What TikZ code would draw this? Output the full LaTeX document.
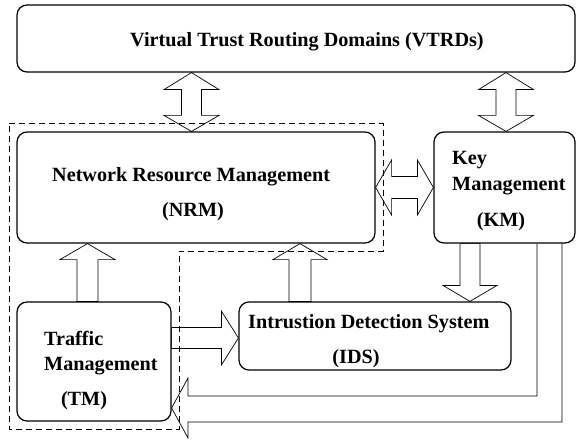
\documentclass[tikz,border=0pt]{standalone}
\usepackage{fontspec}
\setmainfont{Liberation Serif}
\usetikzlibrary{calc}
\begin{document}
\begin{tikzpicture}[x=1pt,y=-1pt,
  box/.style={draw, line width=1.2pt, rounded corners=10pt, inner sep=0pt},
  lbl/.style={inner sep=0pt, font=\fontsize{20.2}{24}\selectfont\bfseries},
  barrow/.style={draw, line width=0.7pt, line join=miter},
  region/.style={draw, line width=1pt, dash pattern=on 6pt off 4pt}]
\useasboundingbox (0,0) rectangle (576,441);
% boxes
\node[box, minimum width=558pt, minimum height=67pt] (vtrd) at (296,38.5) {};
\node[box, minimum width=358pt, minimum height=111pt] (nrm) at (196,187.5) {};
\node[box, minimum width=141pt, minimum height=111pt] (km) at (504.5,187.5) {};
\node[box, minimum width=154pt, minimum height=119pt] (tm) at (94,361.5) {};
\node[box, minimum width=272pt, minimum height=68pt] (ids) at (375,336) {};
% texts
\node[lbl, anchor=base west] (t1) at (130,47) {Virtual Trust Routing Domains (VTRDs)};
\node[lbl, anchor=base west] (t2) at (52,182) {Network Resource Management};
\node[lbl, anchor=base] (t3) at (193,217) {(NRM)};
\node[lbl, anchor=base west] (t4) at (452,165) {Key};
\node[lbl, anchor=base west] (t5) at (452,190) {Management};
\node[lbl, anchor=base] (t6) at (501,226) {(KM)};
\node[lbl, anchor=base west] (t7) at (44,345) {Traffic};
\node[lbl, anchor=base west] (t8) at (44,370) {Management};
\node[lbl, anchor=base] (t9) at (84,405) {(TM)};
\node[lbl, anchor=base west] (t10) at (248,328) {Intrustion Detection System};
\node[lbl, anchor=base] (t11) at (356,363) {(IDS)};
% dashed region
\draw[region] (9,124) -- (383,124) -- (383,251) -- (179,251) -- (179,429) -- (9,429) -- cycle;
% arrow VTRD <-> NRM
\coordinate (a1t) at (vtrd.south -| 191.5,0);
\coordinate (a1b) at (nrm.north -| 191.5,0);
\draw[barrow] (a1t) -- ($(a1t)+(27.5,17)$) -- ($(a1t)+(10,17)$) -- ($(a1b)+(10,-16)$) -- ($(a1b)+(27.5,-16)$) -- (a1b)
  -- ($(a1b)+(-27.5,-16)$) -- ($(a1b)+(-10,-16)$) -- ($(a1t)+(-10,17)$) -- ($(a1t)+(-27.5,17)$) -- cycle;
% arrow VTRD <-> KM
\coordinate (a2t) at (vtrd.south -| 506,0);
\coordinate (a2b) at (km.north -| 506,0);
\draw[barrow] (a2t) -- ($(a2t)+(27.5,17)$) -- ($(a2t)+(10,17)$) -- ($(a2b)+(10,-16)$) -- ($(a2b)+(27.5,-16)$) -- (a2b)
  -- ($(a2b)+(-27.5,-16)$) -- ($(a2b)+(-10,-16)$) -- ($(a2t)+(-10,17)$) -- ($(a2t)+(-27.5,17)$) -- cycle;
% arrow NRM <-> KM
\coordinate (a3l) at (nrm.east);
\coordinate (a3r) at (km.west);
\draw[barrow] (a3l) -- ($(a3l)+(16,-27.5)$) -- ($(a3l)+(16,-11)$) -- ($(a3r)+(-16,-11)$) -- ($(a3r)+(-16,-27.5)$) -- (a3r)
  -- ($(a3r)+(-16,27.5)$) -- ($(a3r)+(-16,11)$) -- ($(a3l)+(16,11)$) -- ($(a3l)+(16,27.5)$) -- cycle;
% arrow TM -> NRM
\coordinate (a4t) at (nrm.south -| 87.5,0);
\coordinate (a4b) at (tm.north -| 87.5,0);
\draw[barrow] (a4t) -- ($(a4t)+(27.5,16)$) -- ($(a4t)+(10.5,16)$) -- ($(a4b)+(10.5,0)$) -- ($(a4b)+(-10.5,0)$)
  -- ($(a4t)+(-10.5,16)$) -- ($(a4t)+(-27.5,16)$) -- cycle;
% arrow IDS -> NRM
\coordinate (a5t) at (nrm.south -| 300,0);
\coordinate (a5b) at (ids.north -| 300,0);
\draw[barrow] (a5t) -- ($(a5t)+(27,16)$) -- ($(a5t)+(11,16)$) -- ($(a5b)+(11,0)$) -- ($(a5b)+(-11,0)$)
  -- ($(a5t)+(-11,16)$) -- ($(a5t)+(-27,16)$) -- cycle;
% arrow KM -> IDS
\coordinate (a6t) at (km.south -| 470,0);
\coordinate (a6b) at (ids.north -| 470,0);
\draw[barrow] (a6b) -- ($(a6b)+(27,-16)$) -- ($(a6b)+(10,-16)$) -- ($(a6t)+(10,0)$) -- ($(a6t)+(-10,0)$)
  -- ($(a6b)+(-10,-16)$) -- ($(a6b)+(-27,-16)$) -- cycle;
% arrow TM -> IDS
\coordinate (a7l) at (tm.east |- 0,338);
\coordinate (a7r) at (ids.west |- 0,338);
\draw[barrow] (a7r) -- ($(a7r)+(-17,-27)$) -- ($(a7r)+(-17,-10.5)$) -- ($(a7l)+(0,-10.5)$) -- ($(a7l)+(0,10.5)$)
  -- ($(a7r)+(-17,10.5)$) -- ($(a7r)+(-17,27)$) -- cycle;
% arrow KM -> TM (L-shaped)
\coordinate (a8a) at (km.south -| 537,0);
\coordinate (a8b) at (km.south -| 562,0);
\coordinate (a8t) at (tm.east |- 0,408);
\draw[barrow] (a8a) -- (537,396) -- (188,396) -- (188,378) -- (a8t) -- (188,438) -- (188,422) -- (562,422) -- (a8b);
\end{tikzpicture}
\end{document}
